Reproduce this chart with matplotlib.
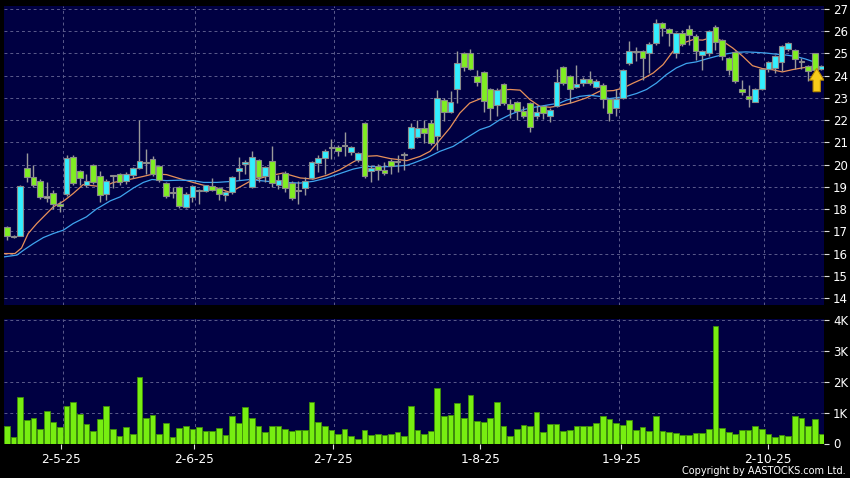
import matplotlib
matplotlib.use("Agg")
import matplotlib.pyplot as plt
import numpy as np
from matplotlib.patches import FancyArrow

opens = [17.2, 16.75, 16.8, 19.85, 19.45, 19.27, 18.52, 18.72, 18.22, 18.7,
         20.34, 19.7, 19.1, 19.98, 19.5, 18.67, 19.48, 19.57, 19.25, 19.53,
         19.83, 20.08, 20.25, 19.92, 19.16, 18.73, 18.98, 18.1, 18.55, 18.8,
         18.83, 19.04, 18.95, 18.65, 18.75, 19.72, 20.03, 19.0, 20.2, 19.48,
         20.18, 19.1, 19.63, 19.18, 18.83, 18.95, 19.42, 20.07, 20.32, 20.75,
         20.77, 20.82, 20.55, 20.22, 21.85, 19.7, 19.95, 19.78, 20.18, 20.1,
         20.47, 20.75, 21.25, 21.66, 21.85, 21.3, 22.9, 22.35, 23.4, 25.0,
         25.0, 24.0, 24.15, 23.4, 22.7, 23.62, 22.73, 22.82, 22.4, 22.77,
         22.18, 22.62, 22.18, 22.65, 24.4, 24.0, 23.5, 23.65, 23.85, 23.5,
         23.58, 22.95, 22.55, 23.0, 24.55, 25.08, 25.1, 25.0, 25.45, 26.38,
         26.1, 25.0, 25.9, 26.1, 25.8, 24.95, 25.0, 26.2, 25.6, 24.8,
         25.07, 23.4, 23.07, 22.82, 23.38, 24.3, 24.35, 24.6, 25.22, 25.15,
         24.63, 24.43, 25.0, 24.3]
highs = [17.25, 16.85, 19.1, 20.5, 20.0, 19.35, 19.2, 18.85, 18.35, 20.45,
         20.45, 19.75, 19.6, 20.05, 19.7, 19.35, 19.55, 19.62, 19.65, 19.9,
         22.0, 20.7, 20.4, 20.0, 19.2, 19.0, 19.05, 18.75, 19.1, 18.9,
         19.1, 19.4, 19.0, 18.8, 19.5, 20.35, 20.2, 20.6, 20.25, 19.95,
         20.85, 19.53, 19.7, 19.25, 19.25, 19.45, 20.15, 20.45, 20.7, 21.15,
         20.9, 21.45, 20.82, 20.55, 21.9, 19.98, 20.05, 20.12, 20.25, 20.43,
         20.55, 21.87, 22.0, 22.0, 22.02, 23.35, 23.0, 23.3, 25.1, 25.05,
         25.18, 24.25, 24.2, 23.45, 23.45, 23.65, 22.95, 22.85, 22.62, 22.8,
         22.7, 22.68, 22.55, 24.3, 24.45, 24.05, 24.5, 23.95, 24.2, 23.85,
         23.65, 23.0, 23.4, 24.3, 25.55, 25.3, 25.15, 25.5, 26.55, 26.42,
         26.15, 25.95, 26.05, 26.3, 25.88, 25.15, 26.05, 26.3, 25.65, 24.85,
         25.1, 23.82, 23.6, 23.45, 24.35, 24.65, 24.95, 25.38, 25.5, 25.2,
         24.78, 24.5, 25.02, 24.5]
lows = [16.6, 16.7, 16.8, 19.2, 19.0, 18.45, 18.3, 18.0, 17.85, 18.6,
        19.1, 19.1, 19.0, 19.15, 18.33, 18.4, 18.95, 19.1, 19.15, 19.4,
        19.8, 19.6, 19.5, 19.2, 18.5, 18.5, 18.05, 18.05, 18.3, 18.25,
        18.75, 18.8, 18.4, 18.35, 18.7, 19.3, 19.6, 18.95, 19.2, 19.2,
        18.98, 18.9, 18.75, 18.4, 18.25, 18.65, 19.35, 19.65, 19.6, 20.25,
        20.38, 20.4, 20.45, 20.1, 19.4, 19.2, 19.3, 19.55, 19.6, 19.68,
        19.75, 20.7, 21.2, 20.95, 20.9, 20.65, 21.97, 22.3, 22.75, 24.2,
        24.25, 23.55, 22.38, 22.0, 22.2, 22.7, 22.1, 22.0, 22.1, 21.48,
        22.05, 22.05, 21.9, 22.6, 23.6, 22.78, 23.45, 23.55, 23.6, 23.45,
        22.55, 21.95, 22.2, 22.95, 24.5, 24.65, 23.8, 24.1, 25.4, 25.8,
        25.35, 24.78, 25.35, 25.4, 24.72, 24.25, 24.9, 25.15, 24.72, 24.05,
        23.65, 23.15, 22.6, 22.8, 23.35, 24.15, 24.1, 24.2, 25.1, 24.3,
        24.28, 23.75, 24.2, 24.25]
closes = [16.8, 16.8, 19.05, 19.45, 19.1, 18.55, 18.58, 18.23, 18.15, 20.3,
          19.18, 19.4, 19.27, 19.23, 18.63, 19.27, 19.52, 19.2, 19.6, 19.83,
          20.15, 20.12, 19.57, 19.3, 18.6, 18.77, 18.12, 18.66, 19.03, 18.85,
          19.08, 18.85, 18.7, 18.77, 19.45, 19.86, 20.14, 20.36, 19.45, 19.9,
          19.16, 19.3, 18.95, 18.48, 18.87, 19.25, 20.1, 20.32, 20.63, 20.79,
          20.63, 20.86, 20.77, 20.52, 19.47, 19.83, 19.78, 19.63, 19.95, 20.15,
          20.43, 21.7, 21.63, 21.42, 20.95, 23.0, 22.35, 22.8, 24.55, 24.4,
          24.28, 23.7, 22.85, 22.55, 23.35, 22.75, 22.48, 22.4, 22.18, 21.67,
          22.35, 22.33, 22.47, 23.72, 23.68, 23.4, 23.62, 23.85, 23.65, 23.75,
          22.93, 22.33, 22.97, 24.25, 25.1, 25.12, 24.8, 25.43, 26.35, 26.15,
          25.9, 25.9, 25.43, 25.85, 25.1, 25.1, 26.0, 25.52, 24.88, 24.27,
          23.75, 23.25, 22.93, 23.4, 24.3, 24.6, 24.88, 25.33, 25.48, 24.75,
          24.67, 24.23, 24.25, 24.45]
volumes_k = [0.57, 0.22, 1.51, 0.76, 0.84, 0.47, 1.05, 0.69, 0.52, 1.21,
             1.36, 0.95, 0.63, 0.42, 0.80, 1.21, 0.46, 0.24, 0.52, 0.30,
             2.17, 0.83, 0.92, 0.32, 0.65, 0.20, 0.49, 0.57, 0.47, 0.52,
             0.41, 0.42, 0.49, 0.27, 0.88, 0.68, 1.18, 0.84, 0.57, 0.37,
             0.58, 0.58, 0.47, 0.39, 0.43, 0.43, 1.34, 0.70, 0.56, 0.43,
             0.31, 0.46, 0.25, 0.15, 0.45, 0.27, 0.32, 0.29, 0.30, 0.38,
             0.24, 1.23, 0.45, 0.30,
             0.40, 1.81, 0.88, 0.94, 1.33, 0.84, 1.56, 0.72, 0.69, 0.83,
             1.35, 0.57, 0.24, 0.46, 0.59, 0.57, 1.01, 0.36, 0.63, 0.63,
             0.39, 0.44, 0.56, 0.57, 0.57, 0.66, 0.88, 0.79, 0.66, 0.61,
             0.77, 0.44, 0.55, 0.42, 0.90, 0.42, 0.36, 0.33, 0.27, 0.27,
             0.33, 0.33, 0.46, 3.83, 0.50, 0.37, 0.32, 0.44, 0.44, 0.58,
             0.47, 0.32, 0.20, 0.28, 0.25, 0.88, 0.84, 0.56, 0.81, 0.30]

ma_fast_x = [-0.45, 1.2, 2.2, 3.2, 4.5, 5.5, 7.0, 8.5, 10.0, 11.5, 13.0, 14.5, 16.1, 17.6, 19.1,
             20.6, 22.1, 24.1, 26.1, 28.1, 29.7, 31.7, 33.7, 36.7, 39.2, 41.7, 44.3, 46.3, 48.3,
             50.3, 52.3, 53.9, 55.9, 57.9, 60.4, 62.4, 63.9, 65.4, 66.9, 68.4, 69.9, 71.4, 72.9,
             74.5, 76.0, 77.5, 79.0, 80.5, 82.0, 83.5, 85.5, 87.5, 89.5, 91.6, 93.1, 94.6, 96.1,
             97.6, 99.1, 100.6, 102.1, 103.6, 105.1, 106.6, 108.1, 109.6, 111.1, 112.6, 114.1,
             115.6, 117.1, 118.6, 120.1, 121.6, 122.4]
ma_fast_y = [16.0, 16.0, 16.25, 16.9, 17.35, 17.65, 18.1, 18.35, 18.7, 19.1, 19.05, 19.0, 19.2, 19.28, 19.37,
             19.47, 19.58, 19.55, 19.37, 19.2, 19.07, 18.95, 18.75, 19.25, 19.47, 19.62, 19.4, 19.35, 19.52,
             19.77, 20.12, 20.37, 20.4, 20.27, 20.18, 20.37, 20.6, 21.12, 21.65, 22.32, 22.77, 22.95, 23.15,
             23.35, 23.38, 23.35, 22.92, 22.62, 22.58, 22.65, 22.8, 23.0, 23.3, 23.33, 23.45, 23.67, 23.87,
             24.12, 24.5, 25.1, 25.47, 25.62, 25.6, 25.75, 25.55, 25.25, 24.88, 24.45, 24.32,
             24.27, 24.17, 24.27, 24.35, 24.42, 24.57]
ma_slow_x = [-0.45, 1.5, 2.5, 4.0, 5.5, 7.0, 8.5, 10.0, 12.0, 13.5, 15.6, 17.1, 19.1, 20.6, 21.9,
             24.1, 26.1, 28.1, 29.7, 31.7, 34.2, 36.7, 39.2, 41.7, 44.3, 46.3, 48.3, 50.3, 52.3,
             54.3, 56.4, 58.4, 60.4, 61.4, 63.4, 65.4, 67.4, 69.4, 71.4, 72.9, 74.5, 76.0, 77.5,
             79.0, 80.5, 82.0, 83.5, 84.5, 86.5, 88.0, 89.5, 91.0, 93.6, 95.1, 96.6, 98.1, 99.6,
             101.1, 102.6, 104.1, 105.6, 107.1, 108.6, 110.1, 111.6, 113.1, 114.6, 116.1, 117.6,
             119.1, 120.6, 122.1]
ma_slow_y = [15.85, 15.93, 16.15, 16.45, 16.72, 16.9, 17.05, 17.35, 17.65, 18.0, 18.37, 18.55, 18.95, 19.2, 19.33,
             19.28, 19.3, 19.28, 19.2, 19.2, 19.25, 19.33, 19.25, 19.2, 19.17, 19.25, 19.4, 19.6, 19.8,
             19.92, 19.9, 19.92, 19.97, 20.07, 20.3, 20.6, 20.82, 21.2, 21.57, 21.72, 22.03, 22.25, 22.43,
             22.55, 22.62, 22.7, 22.77, 22.9, 23.07, 23.12, 23.07, 22.97, 23.07, 23.2, 23.38, 23.67, 24.05,
             24.35, 24.55, 24.62, 24.75, 24.87, 24.98, 25.05, 25.07, 25.05, 25.02, 24.97, 24.93,
             24.87, 24.75, 24.6]

date_labels = ["2-5-25", "2-6-25", "2-7-25", "1-8-25", "1-9-25", "2-10-25"]
date_tick_pos = [8.1, 28.2, 49.3, 71.5, 92.8, 114.9]
date_grid_pos = [8.5, 28.4, 49.4, 71.5, 92.5, 114.3]
price_ticks = list(range(14, 28))
vol_ticks = [0, 1, 2, 3, 4]
vol_tick_labels = ["0", "1K", "2K", "3K", "4K"]

W, H = 850, 478
BG = "#000042"
GRID = "#5b5b8c"
UP = "#33eeff"
DOWN = "#80ee22"
DOJI = "#a8a8a8"

fig = plt.figure(figsize=(W / 100, H / 100), dpi=100, facecolor="black")


def rect(l, t, r, b):
    return [l / W, 1 - b / H, (r - l) / W, (b - t) / H]


axp = fig.add_axes(rect(4, 6, 824, 305))
axv = fig.add_axes(rect(4, 319, 824, 443.5), sharex=axp)

o = np.array(opens)
h = np.array(highs)
l = np.array(lows)
c = np.array(closes)
x = np.arange(len(o))
colors = [DOJI if abs(ci - oi) < 0.06 else (UP if ci > oi else DOWN) for oi, ci in zip(o, c)]
bottoms = np.minimum(o, c)
heights = np.maximum(np.abs(c - o), 0.04)

for ax in (axp, axv):
    ax.set_facecolor(BG)
    for s in ax.spines.values():
        s.set_visible(False)
    ax.set_xticks(date_grid_pos, minor=True)
    ax.grid(True, which="minor", axis="x", color=GRID, linestyle=(0, (3, 3)), linewidth=0.7)
    ax.grid(True, which="major", axis="y", color=GRID, linestyle=(0, (3, 3)), linewidth=0.7)
    ax.grid(False, which="major", axis="x")
    ax.set_axisbelow(True)
    ax.yaxis.tick_right()
    ax.tick_params(axis="y", which="major", colors="#dddddd", labelcolor="white",
                   length=3.5, width=0.8, pad=3, labelsize=8.5)
    ax.tick_params(axis="x", which="minor", length=0)

axp.plot(ma_fast_x, ma_fast_y, color="#e8905a", linewidth=0.9, zorder=2)
axp.plot(ma_slow_x, ma_slow_y, color="#3fa4ee", linewidth=0.9, zorder=2)
axp.vlines(x, l, h, color="#9a9a9a", linewidth=1.0, zorder=3)
axp.bar(x, heights, bottom=bottoms, width=0.86, color=colors, edgecolor="#8a8a8a",
        linewidth=0.8, zorder=4)
arrow = FancyArrow(122.3, 23.28, 0, 1.05, width=1.1, head_width=2.2, head_length=0.53,
                   length_includes_head=True, facecolor="#f7cc1a", edgecolor="#b88a00",
                   linewidth=0.8, zorder=6)
axp.add_patch(arrow)

axp.set_ylim(13.685, 27.135)
axp.set_yticks(price_ticks)
axp.set_yticklabels([str(t) for t in price_ticks])
axp.set_xlim(-0.45, 123.4)
axp.tick_params(axis="x", which="major", bottom=False, labelbottom=False)

axv.bar(x, volumes_k, width=0.86, color="#77ee11", edgecolor="#3f8f08", linewidth=0.6, zorder=3)
axv.set_ylim(0, 4.042)
axv.set_yticks(vol_ticks)
axv.set_yticklabels(vol_tick_labels)
axv.set_xticks(date_tick_pos)
axv.set_xticklabels(date_labels)
axv.tick_params(axis="x", which="major", colors="#dddddd", labelcolor="white",
                length=3.5, width=0.8, pad=3, labelsize=8.7)

fig.text(846 / W, 1 - 471.5 / H, "Copyright by AASTOCKS.com Ltd.", color="white",
         fontsize=7.0, ha="right", va="center")

fig.savefig("out.png", dpi=100, facecolor="black")
